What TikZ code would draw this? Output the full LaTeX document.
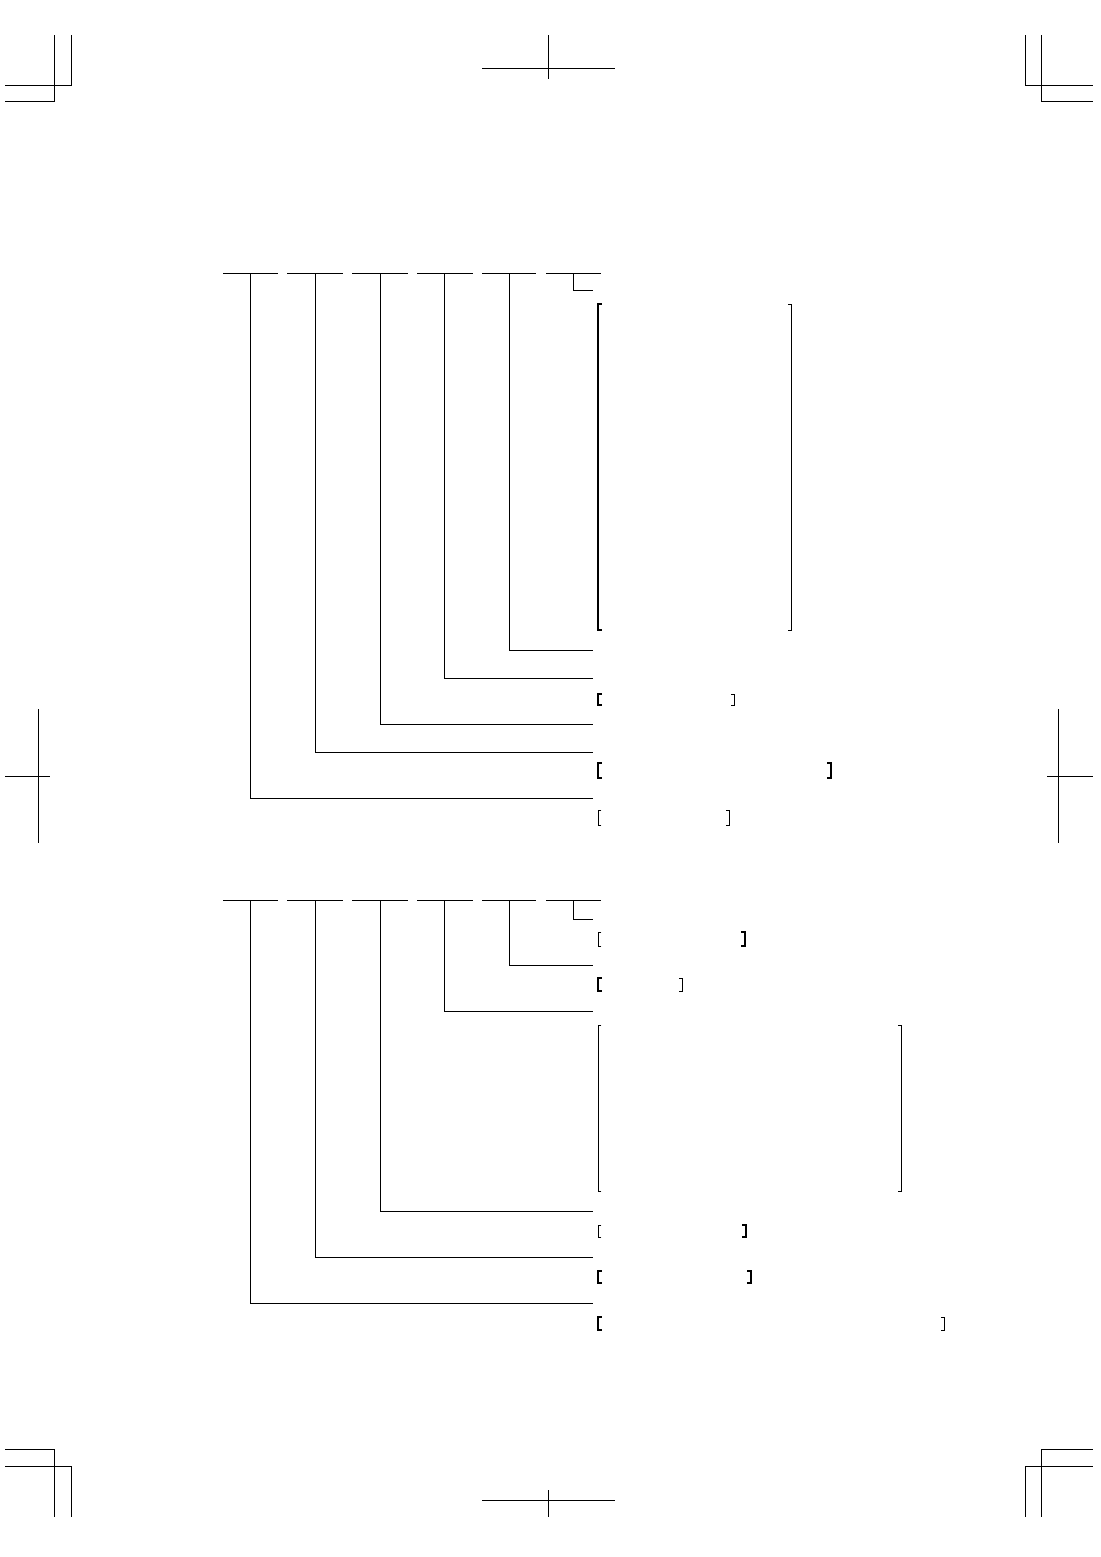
\documentclass[tikz,border=0pt]{standalone}
\begin{document}
\begin{tikzpicture}[x=1pt,y=-1pt,line cap=rect,
  ln/.style={line width=1pt},
  thn/.style={line width=0.9pt},
  bld/.style={line width=2pt}]
\useasboundingbox (0,0) rectangle (1100,1557);
% ---- crop marks ----
\begin{scope}[ln]
\draw (54,36) -- (54,102) (5,102) -- (54,102);
\draw (71,36) -- (71,86) (5,86) -- (71,86);
\draw (548,36) -- (548,79) (482,69) -- (614,69);
\draw (1025,36) -- (1025,86) (1025,86) -- (1092,86);
\draw (1041,36) -- (1041,102) (1041,102) -- (1092,102);
\draw (38,709) -- (38,842) (5,776) -- (49,776);
\draw (1058,709) -- (1058,842) (1047,776) -- (1092,776);
\draw (5,1449) -- (54,1449) -- (54,1516);
\draw (5,1466) -- (71,1466) -- (71,1516);
\draw (548,1490) -- (548,1516) (482,1500) -- (614,1500);
\draw (1092,1449) -- (1041,1449) -- (1041,1516);
\draw (1092,1466) -- (1025,1466) -- (1025,1516);
\end{scope}
% ---- bracket helpers ----
\newcommand\lbrk[4]{\draw[#4] (#1+3,#2) -- (#1,#2) -- (#1,#3) -- (#1+3,#3);}
\newcommand\rbrk[4]{\draw[#4] (#1-3,#2) -- (#1,#2) -- (#1,#3) -- (#1-3,#3);}
% ================= tree 1 =================
\foreach \a/\b in {223/277,287/342,352/407,417/472,482/535,546/600}
  \draw[ln] (\a,273) -- (\b,273);
\coordinate (t1a) at (250,273);
\coordinate (t1b) at (315,273);
\coordinate (t1c) at (380,273);
\coordinate (t1d) at (444,273);
\coordinate (t1e) at (509,273);
\coordinate (t1f) at (573,273);
\coordinate (e1f) at (592,290);
\coordinate (e1e) at (592,650);
\coordinate (e1d) at (592,678);
\coordinate (e1c) at (592,724);
\coordinate (e1b) at (592,752);
\coordinate (e1a) at (592,798);
\foreach \n in {a,b,c,d,e,f}
  \draw[ln] (t1\n) |- (e1\n);
\lbrk{598}{304}{630}{bld}
\rbrk{791}{304}{630}{thn}
\lbrk{598}{694}{705}{bld}
\rbrk{734}{694}{705}{thn}
\lbrk{598}{763}{778}{bld}
\rbrk{831}{763}{778}{bld}
\lbrk{598}{810}{825}{thn}
\rbrk{729}{810}{825}{thn}
% ================= tree 2 =================
\foreach \a/\b in {223/277,287/342,352/407,417/472,482/535,546/600}
  \draw[ln] (\a,900) -- (\b,900);
\coordinate (t2a) at (250,900);
\coordinate (t2b) at (315,900);
\coordinate (t2c) at (380,900);
\coordinate (t2d) at (444,900);
\coordinate (t2e) at (509,900);
\coordinate (t2f) at (573,900);
\coordinate (e2f) at (592,919);
\coordinate (e2e) at (592,965);
\coordinate (e2d) at (592,1011);
\coordinate (e2c) at (592,1211);
\coordinate (e2b) at (592,1257);
\coordinate (e2a) at (592,1303);
\foreach \n in {a,b,c,d,e,f}
  \draw[ln] (t2\n) |- (e2\n);
\lbrk{598}{932}{946}{thn}
\rbrk{745}{932}{946}{bld}
\lbrk{598}{978}{991}{bld}
\rbrk{682}{978}{991}{thn}
\lbrk{598}{1025}{1191}{thn}
\rbrk{901}{1025}{1191}{thn}
\lbrk{598}{1225}{1237}{thn}
\rbrk{746}{1225}{1237}{bld}
\lbrk{598}{1271}{1283}{bld}
\rbrk{751}{1271}{1283}{bld}
\lbrk{598}{1317}{1330}{bld}
\rbrk{944}{1317}{1330}{thn}
\end{tikzpicture}
\end{document}
